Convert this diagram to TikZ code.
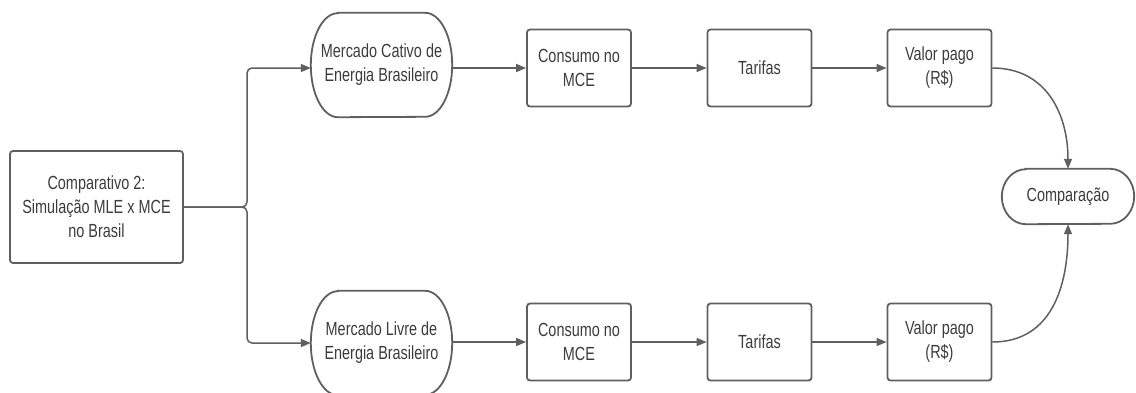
\documentclass[tikz,border=0pt]{standalone}
\usepackage{fontspec}
\setmainfont{Liberation Sans}[FakeStretch=0.76]
\usetikzlibrary{arrows.meta}
\definecolor{linegray}{HTML}{5F5F5F}
\definecolor{textgray}{HTML}{3C3C3C}
\tikzset{
  label text/.style={align=center, text=textgray, inner sep=0pt,
    font=\fontsize{19}{24}\selectfont},
  stepbox/.style={label text, rectangle, rounded corners=3pt, draw=linegray,
    line width=1.8pt, minimum width=104pt, minimum height=77pt},
  terminal/.style={label text, rectangle, minimum width=141pt,
    minimum height=104pt},
  termline/.style={draw=linegray, line width=1.8pt},
  conn/.style={draw=linegray, line width=1.5pt,
    -{Triangle[length=10pt,width=8pt]}},
}
% outline of a terminal node: flat top and bottom, half-ellipse ends
% #1 node name, #2 horizontal radius of the ends, #3 half height
\newcommand\terminaloutline[3]{%
  \draw[termline] ([xshift=#2]#1.north west) -- ([xshift=-#2]#1.north east)
    arc[start angle=90, end angle=-90, x radius=#2, y radius=#3]
    -- ([xshift=#2]#1.south west)
    arc[start angle=270, end angle=90, x radius=#2, y radius=#3] -- cycle;}
\begin{document}
\begin{tikzpicture}[x=1pt,y=1pt]
  \useasboundingbox (0,0) rectangle (1136,-392);

  % source block
  \node[stepbox, minimum width=173pt, minimum height=112pt] (src) at (96.5,-207)
    {Comparativo 2:\\Simulação MLE x MCE\\no Brasil};

  % captive market row
  \node[terminal] (mce) at (381.5,-65) {Mercado Cativo de\\Energia Brasileiro};
  \terminaloutline{mce}{27pt}{52pt}
  \node[stepbox] (cons1) at (579,-68) {Consumo no\\MCE};
  \node[stepbox] (tar1) at (759.5,-68) {Tarifas};
  \node[stepbox] (val1) at (939.5,-68) {Valor pago\\(R\$)};

  % free market row
  \node[terminal] (mle) at (381.5,-343) {Mercado Livre de\\Energia Brasileiro};
  \terminaloutline{mle}{27pt}{52pt}
  \node[stepbox] (cons2) at (579,-342) {Consumo no\\MCE};
  \node[stepbox] (tar2) at (759.5,-342) {Tarifas};
  \node[stepbox] (val2) at (939.5,-342) {Valor pago\\(R\$)};

  % final comparison
  \node[terminal, minimum width=132pt, minimum height=55pt] (cmp)
    at (1068,-196.5) {Comparação};
  \terminaloutline{cmp}{24pt}{27.5pt}

  % branching from the source
  \coordinate (split) at (247,-207);
  \draw[conn, rounded corners=5pt] (src.east) -- (split) |- (mce.west |- cons1.west);
  \draw[conn, rounded corners=5pt] (src.east) -- (split) |- (mle.west);

  % row connectors
  \draw[conn] (mce.east |- cons1.west) -- (cons1.west);
  \draw[conn] (cons1.east) -- (tar1.west);
  \draw[conn] (tar1.east) -- (val1.west);
  \draw[conn] (mle.east |- cons2.west) -- (cons2.west);
  \draw[conn] (cons2.east) -- (tar2.west);
  \draw[conn] (tar2.east) -- (val2.west);

  % into the comparison
  \draw[conn] (val1.east) to[out=0, in=90, looseness=1.1] (cmp.north);
  \draw[conn] (val2.east) to[out=0, in=-90, looseness=1.1] (cmp.south);
\end{tikzpicture}
\end{document}
